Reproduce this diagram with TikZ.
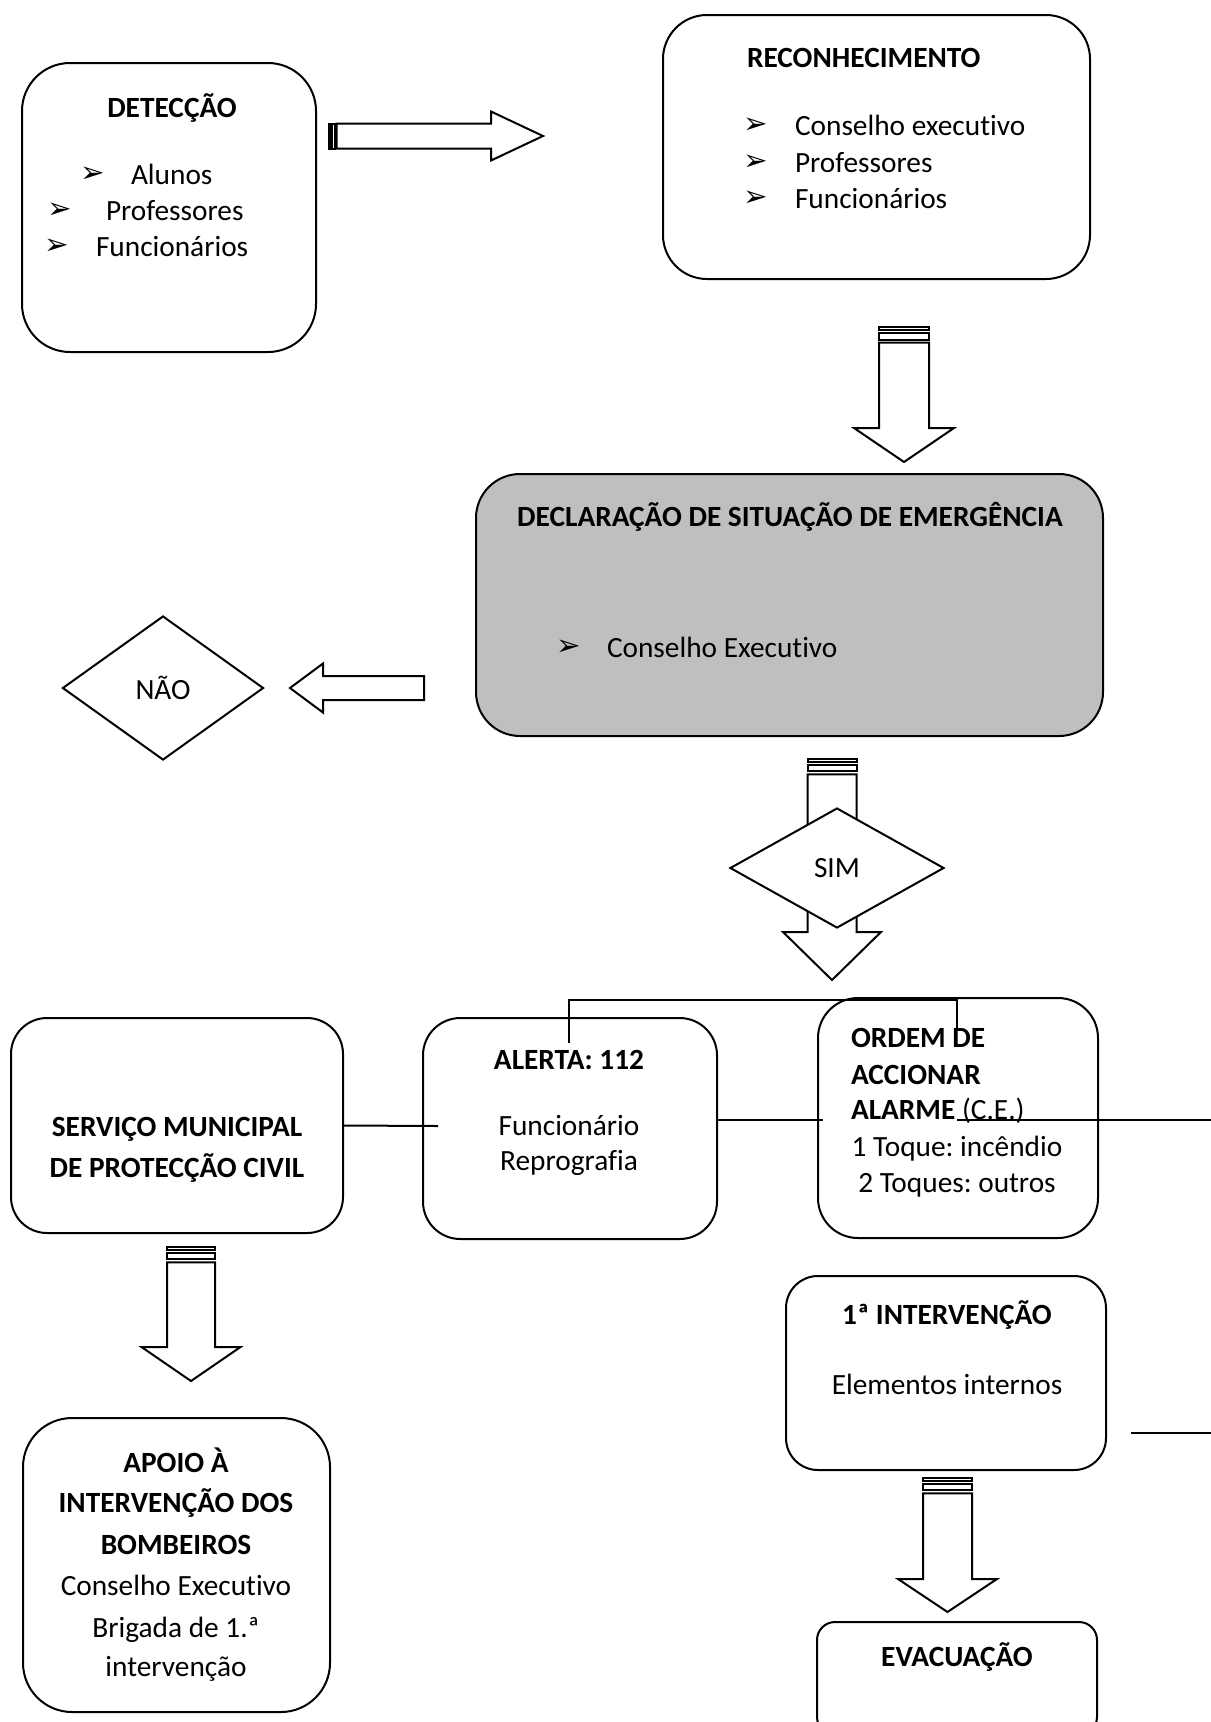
\documentclass[tikz,border=0pt]{standalone}
\usepackage{fontspec}
\setmainfont{Carlito}[Ligatures=NoCommon]
\newfontfamily\dingfont{DejaVu Sans}
\usetikzlibrary{shapes.geometric,fit}

\definecolor{declgray}{RGB}{191,191,191}
\newcommand{\basefont}{\fontsize{11}{13.4}\selectfont\frenchspacing}
\newcommand{\bul}{{\dingfont\fontsize{11}{11}\selectfont ➢}}

\tikzset{
  box/.style={draw, inner sep=0pt},
  ttl/.style={anchor=base, inner sep=0pt, font=\basefont\bfseries},
  txt/.style={anchor=base, inner sep=0pt, font=\basefont},
  item/.style={anchor=base west, inner sep=0pt, font=\basefont},
  bullet/.style={inner sep=0pt},
  choice/.style={draw, diamond, fill=white, inner sep=0pt, font=\basefont},
  % block arrow with two stripes at its tail: length/half shaft/half head/head length
  pics/striparrow/.style args={#1/#2/#3/#4}{code={
    \draw (0,-#2) rectangle ({#3/16},#2);
    \draw ({#3/8},-#2) rectangle ({#3/4},#2);
    \draw[fill=white] ({5*#3/16},-#2) -- ({#1-#4},-#2) -- ({#1-#4},-#3) -- (#1,0)
      -- ({#1-#4},#3) -- ({#1-#4},#2) -- ({5*#3/16},#2) -- cycle;
  }},
  pics/plainarrow/.style args={#1/#2/#3/#4}{code={
    \draw[fill=white] (0,-#2) -- ({#1-#4},-#2) -- ({#1-#4},-#3) -- (#1,0)
      -- ({#1-#4},#3) -- ({#1-#4},#2) -- (0,#2) -- cycle;
  }}
}

\begin{document}
\begin{tikzpicture}[x=0.375pt, y=-0.375pt, line width=0.75pt]
\path[use as bounding box, clip] (0,0) rectangle (1211,1722);

% boxes
\node[box, rounded corners=18pt, fit={(22,63) (316,352)}] (det) {};
\node[box, rounded corners=16.5pt, fit={(663,15) (1090,279)}] (rec) {};
\node[box, rounded corners=16.5pt, fill=declgray, fit={(476,474) (1103,736)}] (decl) {};
\node[box, rounded corners=13.5pt, fit={(11,1018) (343,1233)}] (serv) {};
\node[box, rounded corners=14pt, fit={(423,1018) (717,1239)}] (alerta) {};
\node[box, rounded corners=15pt, fit={(818,998) (1098,1238)}] (ordem) {};
\node[box, rounded corners=12pt, fit={(786,1276) (1106,1470)}] (interv) {};
\node[box, rounded corners=18.4pt, fit={(23,1418) (330,1712)}] (apoio) {};
\node[box, rounded corners=6.75pt, fit={(817,1622) (1097,1735)}] (evac) {};

% block arrows
\pic at (329,136) {striparrow=214/12.5/24.5/52};
\pic[rotate=-90] at (904,327) {striparrow=135/25/50/34};
\pic[rotate=180] at (424,688) {plainarrow=134/12/24.5/33};
\pic[rotate=-90] at (832,759) {striparrow=221/24.5/49/48};
\pic[rotate=-90] at (191,1247) {striparrow=134/24/49.5/34};
\pic[rotate=-90] at (947.5,1478) {striparrow=134/24.5/49.5/33};

% decisions
\node[choice, minimum width=75.4pt, minimum height=54pt] (nao) at (163,688) {NÃO};
\node[choice, minimum width=80.25pt, minimum height=45pt] (sim) at (837,868) {SIM};

% DETECCAO
\node[ttl] (detT) at (172,117) {DETECÇÃO};
\node[bullet] (detB1) at (93,175) {\bul};
\node[bullet] (detB2) at (60,211) {\bul};
\node[bullet] (detB3) at (57,247) {\bul};
\node[item] (det1) at (130,184) {Alunos};
\node[item] (det2) at (105,220) {Professores};
\node[item] (det3) at (95,256) {Funcionários};

% RECONHECIMENTO
\node[ttl, anchor=base west] (recT) at (746,67) {RECONHECIMENTO};
\node[bullet] (recB1) at (756,126) {\bul};
\node[bullet] (recB2) at (756,163) {\bul};
\node[bullet] (recB3) at (756,199) {\bul};
\node[item] (rec1) at (794,135) {Conselho executivo};
\node[item] (rec2) at (794,172) {Professores};
\node[item] (rec3) at (794,208) {Funcionários};

% DECLARACAO
\node[ttl] (declT) at (790,526) {DECLARAÇÃO DE SITUAÇÃO DE EMERGÊNCIA};
\node[bullet] (declB) at (569,648) {\bul};
\node[item] (decl1) at (606,657) {Conselho Executivo};

% SERVICO
\node[ttl] (servT1) at (177,1136) {SERVIÇO MUNICIPAL};
\node[ttl] (servT2) at (177,1177) {DE PROTECÇÃO CIVIL};

% ALERTA
\node[ttl] (alertaT) at (569,1069) {ALERTA: 112};
\node[txt] (alerta1) at (569,1135) {Funcionário};
\node[txt] (alerta2) at (569,1170) {Reprografia};

% ORDEM
\node[ttl, anchor=base west] (ordemT1) at (850,1047) {ORDEM DE};
\node[ttl, anchor=base west] (ordemT2) at (850,1084) {ACCIONAR};
\node[item] (ordemT3) at (850,1119) {\textbf{ALARME} (C.E.)};
\node[txt] (ordem1) at (957,1156) {1 Toque: incêndio};
\node[txt] (ordem2) at (957,1192) {2 Toques: outros};

% 1a INTERVENCAO
\node[ttl] (intervT) at (947,1324) {1ª INTERVENÇÃO};
\node[txt] (interv1) at (947,1394) {Elementos internos};

% APOIO
\node[ttl] (apoioT1) at (176,1472) {APOIO À};
\node[ttl] (apoioT2) at (176,1512) {INTERVENÇÃO DOS};
\node[ttl] (apoioT3) at (176,1554) {BOMBEIROS};
\node[txt] (apoio1) at (176,1595) {Conselho Executivo};
\node[txt] (apoio2) at (176,1637) {Brigada de 1.ª};
\node[txt] (apoio3) at (176,1676) {intervenção};

% EVACUACAO
\node[ttl] (evacT) at (957,1666) {EVACUAÇÃO};

% connectors
\coordinate (c1) at (569,1043);
\coordinate (c2) at (957,1000);
\coordinate (c3) at (957,1030);
\draw (c1) |- (c2) -- (c3);
\coordinate (c4) at (438,1126);
\draw (serv.east) -- (c4);
\coordinate (c6) at (823,1120);
\draw (alerta.east |- c6) -- (c6);
\coordinate (c7) at (957,1120);
\coordinate (c8) at (1211,1120);
\draw (c7) -- (c8);
\coordinate (c9) at (1131,1433);
\coordinate (c10) at (1211,1433);
\draw (c9) -- (c10);
\end{tikzpicture}
\end{document}
